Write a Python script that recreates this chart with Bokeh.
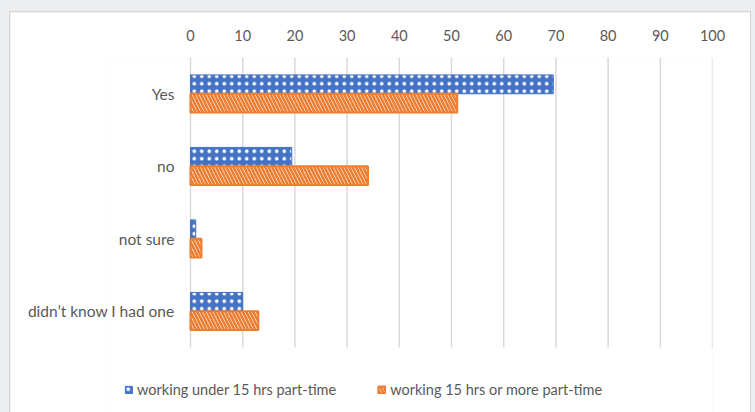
from bokeh.plotting import figure
from bokeh.layouts import column
from bokeh.models import Range1d, Legend, LegendItem, ColumnDataSource, FixedTicker
from bokeh.embed import file_html
from bokeh.resources import INLINE

categories = ["Yes", "no", "not sure", "didn\u2019t know I had one"]
under_15 = [69.5, 19.4, 1.0, 10.0]
over_15 = [51.1, 34.0, 2.1, 13.0]
series_names = ["working under 15 hrs part-time", "working 15 hrs or more part-time"]
x_ticks = list(range(0, 101, 10))

BLUE = "#4472c4"
ORANGE = "#ed7d31"
TXT = "#595959"
FONT = "Lato"

n = len(categories)
y_pos = [n - i - 0.5 for i in range(n)]          # band centres, top category first
src = ColumnDataSource(dict(cat=categories, y=y_pos,
                            ya=[v + 0.13 for v in y_pos], yb=[v - 0.13 for v in y_pos],
                            a=under_15, b=over_15))
grid_src = ColumnDataSource(dict(x=x_ticks, y0=[0] * len(x_ticks), y1=[n] * len(x_ticks)))

# layout (pixels): frame left 100, right border 38, top axis 45, band 72.5 px
W, H = 740, 400
left_b, right_b, top_b = 100, 38, 45
px_per_unit = 5.22
band_px = 72.5
x_start = -(180 - left_b) / px_per_unit
y_bottom = n - (H - top_b) / band_px

p = figure(width=W, height=H,
           x_range=Range1d(x_start, 100), y_range=Range1d(y_bottom, n),
           x_axis_location="above",
           output_backend="svg", toolbar_location=None,
           min_border_left=left_b, min_border_right=right_b,
           min_border_top=top_b, min_border_bottom=0)
p.margin = (12, 5, 0, 10)
p.styles = {"box-shadow": "0 0 0 1px #d4d4d4"}
p.background_fill_color = "white"
p.border_fill_color = "white"
p.outline_line_color = None
p.xgrid.visible = False
p.ygrid.visible = False

p.segment(x0="x", x1="x", y0="y0", y1="y1", source=grid_src,
          line_color="#d9d9d9", line_width=1.5)

r1 = p.hbar(y="ya", right="a", left=0, height=0.26,
            source=src, fill_color=BLUE, line_color=BLUE, line_width=1,
            hatch_pattern="dot", hatch_color="white", hatch_scale=7.5, hatch_weight=0.6)
r2 = p.hbar(y="yb", right="b", left=0, height=0.26,
            source=src, fill_color="white", line_color=ORANGE, line_width=2,
            hatch_pattern="left_diagonal_line", hatch_color=ORANGE, hatch_scale=7, hatch_weight=2.6)

p.xaxis.ticker = FixedTicker(ticks=x_ticks)
p.xaxis.axis_line_color = None
p.xaxis.major_tick_line_color = None
p.xaxis.minor_tick_line_color = None
p.xaxis.major_label_text_color = TXT
p.xaxis.major_label_text_font = FONT
p.xaxis.major_label_text_font_size = "14.5px"
p.xaxis.major_label_standoff = 11

p.yaxis.ticker = FixedTicker(ticks=y_pos)
p.yaxis.major_label_overrides = {yv: c for yv, c in zip(y_pos, categories)}
p.yaxis.axis_line_color = None
p.yaxis.major_tick_line_color = None
p.yaxis.minor_tick_line_color = None
p.yaxis.major_label_text_color = TXT
p.yaxis.major_label_text_font = FONT
p.yaxis.major_label_text_font_size = "15.5px"
p.yaxis.major_label_standoff = -(180 - left_b) + 10

legend = Legend(items=[LegendItem(label=series_names[0], renderers=[r1]),
                       LegendItem(label=series_names[1], renderers=[r2])],
                orientation="horizontal", location=(14, 14),
                glyph_width=9, glyph_height=9, label_standoff=4, spacing=41,
                label_text_font=FONT, label_text_font_size="14.5px", label_text_color=TXT,
                label_height=16, padding=0, margin=0,
                border_line_color=None, background_fill_alpha=0)
p.add_layout(legend, "center")

layout = column(p, styles={"background-color": "#edeef0"})

open("out.html", "w").write(file_html(layout, INLINE))
